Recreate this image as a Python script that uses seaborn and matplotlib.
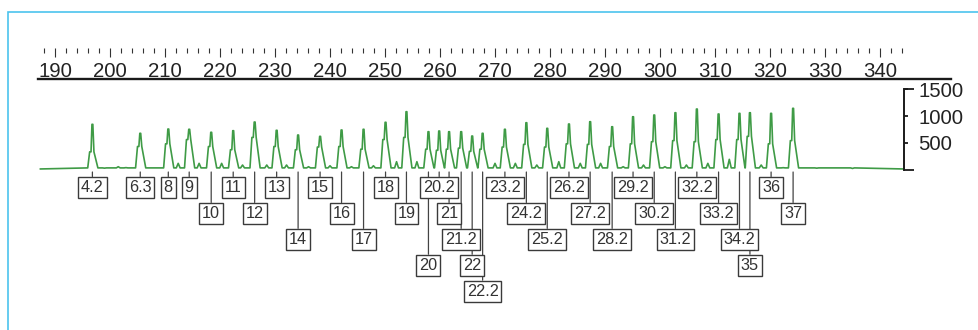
import pandas as pd
import matplotlib
matplotlib.use("Agg")
import matplotlib.pyplot as plt
from matplotlib.ticker import FixedLocator
from matplotlib.patches import Rectangle
import seaborn as sns

sns.set_theme(style="white")
plt.rcParams['font.family'] = ['Liberation Sans', 'DejaVu Sans']

# allele calls, peak size (bp), peak height and shoulder height (RFU), label row
alleles = ['4.2', '6.3', '8', '9', '10', '11', '12', '13', '14', '15',
           '16', '17', '18', '19', '20', '20.2', '21', '21.2', '22', '22.2',
           '23.2', '24.2', '25.2', '26.2', '27.2', '28.2', '29.2', '30.2', '31.2', '32.2',
           '33.2', '34.2', '35', '36', '37']
size_bp = [196.8, 205.5, 210.6, 214.4, 218.4, 222.4, 226.3, 230.3, 234.2, 238.2,
           242.1, 246.1, 250.1, 253.9, 257.9, 259.85, 261.65, 263.85, 265.85, 267.75,
           271.8, 275.7, 279.5, 283.45, 287.3, 291.3, 295.1, 298.95, 302.8, 306.7,
           310.65, 314.45, 316.35, 320.2, 324.2]
height_rfu = [845, 677, 757, 752, 696, 726, 888, 733, 645, 620,
              739, 752, 883, 1081, 707, 720, 707, 707, 626, 677,
              752, 875, 770, 851, 894, 800, 987, 1019, 1062, 1131,
              1038, 1050, 1062, 1050, 1144]
shoulder_rfu = [330, 430, 480, 560, 430, 370, 600, 430, 370, 420,
                430, 380, 560, 600, 380, 360, 380, 400, 340, 380,
                420, 470, 420, 480, 470, 430, 480, 520, 540, 520,
                560, 560, 620, 480, 540]
label_row = [1, 1, 1, 1, 2, 1, 2, 1, 3, 1,
             2, 3, 1, 2, 4, 1, 2, 3, 4, 5,
             1, 2, 3, 1, 2, 3, 1, 2, 3, 1,
             2, 3, 4, 1, 2]

# small stutter / noise bumps between the allele peaks
minor_bp = [199.0, 201.5, 202.9, 212.4, 216.2, 220.3, 224.1, 228.5, 232.1, 236.1,
            240.0, 243.9, 247.9, 252.1, 255.8, 270.0, 273.7, 277.6, 281.6, 285.5,
            289.2, 293.3, 297.0, 300.9, 304.8, 308.7, 312.6, 318.4, 322.4, 328.5, 335.0]
minor_rfu = [25, 52, 35, 115, 115, 115, 84, 84, 84, 52,
             70, 52, 70, 146, 146, 115, 115, 84, 146, 115,
             115, 52, 84, 52, 84, 115, 190, 84, 34, 25, 20]

ruler_major = list(range(190, 341, 10))
ruler_minor = list(range(188, 345, 2))
rfu_ticks = [500, 1000, 1500]

trace_start, trace_end = 187.3, 344.36
green = "#3f9b46"
ink = "#222222"

# build the trace vertices from the peak table
foot = 30
pts = [(trace_start, 10), (trace_end, 10)]
for p, h, s in zip(size_bp, height_rfu, shoulder_rfu):
    for dx, y in [(-0.85, foot), (-0.5, s), (-0.25, s), (-0.08, h), (0.08, h),
                  (0.28, s), (1.0, foot)]:
        pts.append((p + dx, y))
for m, h in zip(minor_bp, minor_rfu):
    for dx, y in [(-0.35, foot), (0.0, h), (0.35, foot)]:
        pts.append((m + dx, y))
trace = pd.DataFrame(pts, columns=['bp', 'rfu']).sort_values('bp')

W, H = 979, 330
fig = plt.figure(figsize=(W / 100, H / 100), dpi=100)


def frac(x0, y0, x1, y1):
    # pixel box (origin top-left) -> figure fraction rect
    return [x0 / W, 1 - y1 / H, (x1 - x0) / W, (y1 - y0) / H]


def bp_at(x):
    return 190 + (x - 55) / 5.5


# ruler on top
ruler = fig.add_axes(frac(38, 47.5, 951, 79))
ruler.set_xlim(bp_at(38), bp_at(951))
ruler.set_yticks([])
for side in ['top', 'left', 'right']:
    ruler.spines[side].set_visible(False)
ruler.spines['bottom'].set_linewidth(1.7)
ruler.spines['bottom'].set_color('#1a1a1a')
ruler.xaxis.set_major_locator(FixedLocator(ruler_major))
ruler.xaxis.set_minor_locator(FixedLocator(ruler_minor))
ruler.tick_params(axis='x', which='both', direction='in', top=True, bottom=False,
                  labeltop=True, labelbottom=False, color='#333333', width=0.8)
ruler.tick_params(axis='x', which='major', length=6.8, pad=-24, labelsize=14.7, labelcolor=ink)
ruler.tick_params(axis='x', which='minor', length=3.3)

# electropherogram trace
ax = fig.add_axes(frac(38, 86.09, 904, 172.71))
sns.lineplot(data=trace, x='bp', y='rfu', ax=ax, color=green, lw=1.2,
             estimator=None, sort=False)
ax.set_xlim(bp_at(38), bp_at(904))
ax.set_ylim(-60, 1560)
ax.set_xlabel('')
ax.set_ylabel('')
ax.set_xticks([])
for side in ['top', 'left', 'bottom']:
    ax.spines[side].set_visible(False)
ax.spines['right'].set_bounds(0, 1500)
ax.spines['right'].set_linewidth(1.4)
ax.spines['right'].set_color('#1a1a1a')
ax.yaxis.tick_right()
ax.yaxis.set_major_locator(FixedLocator(rfu_ticks))
ax.yaxis.set_minor_locator(FixedLocator([0, 1500]))
ax.yaxis.remove_overlapping_locs = False
ax.tick_params(axis='y', which='both', left=False, right=True, direction='out',
               color='#1a1a1a', width=1.3)
ax.tick_params(axis='y', which='major', length=3, pad=7.2, labelsize=14.6, labelcolor=ink)
ax.tick_params(axis='y', which='minor', length=7.5)

# allele call boxes
lab = fig.add_axes(frac(38, 172, 904, 330), sharex=ax)
lab.set_ylim(158, 0)
lab.axis('off')
order = sorted(range(len(alleles)), key=lambda i: -label_row[i])
for i in order:
    off = 15.5 + 25.9 * (label_row[i] - 1)
    lab.annotate(alleles[i], xy=(size_bp[i], 0), xytext=(size_bp[i], off),
                 ha='center', va='center', fontsize=11.7, color='#333333',
                 bbox=dict(boxstyle='square,pad=0.18', fc='white', ec='#3a3a3a', lw=1.0),
                 arrowprops=dict(arrowstyle='-', color='#444444', lw=0.9,
                                 shrinkA=0, shrinkB=0),
                 annotation_clip=False)

# light blue panel frame
fig.add_artist(Rectangle((8 / W, -0.1), 1.2, (1 - 11.5 / H) + 0.1, fill=False,
                         ec='#4cc3ee', lw=1.2, transform=fig.transFigure))

fig.savefig('out.png', dpi=100)
